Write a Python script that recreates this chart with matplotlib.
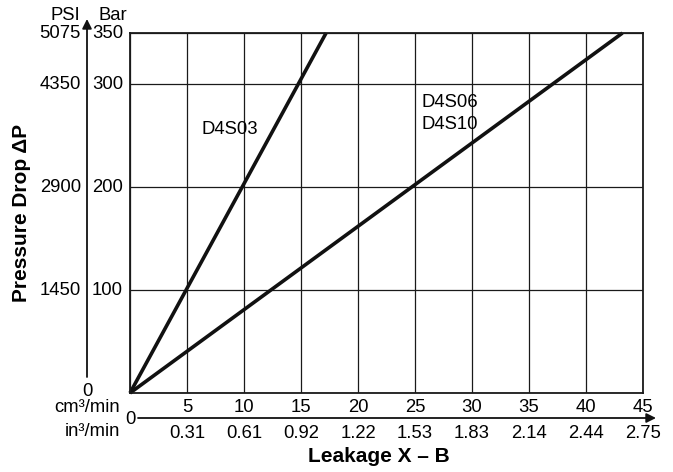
import matplotlib
matplotlib.use("Agg")
import matplotlib.pyplot as plt
from matplotlib.transforms import blended_transform_factory

plt.rcParams['font.family'] = ['Liberation Sans', 'DejaVu Sans']

# Data
cm_ticks = [5, 10, 15, 20, 25, 30, 35, 40, 45]
in_labels = ['0.31', '0.61', '0.92', '1.22', '1.53', '1.83', '2.14', '2.44', '2.75']
bar_ticks = [100, 200, 300, 350]
psi_labels = ['1450', '2900', '4350', '5075']
d4s03_x = [0, 17.2]
d4s03_y = [0, 350]
d4s06_x = [0, 43.2]
d4s06_y = [0, 350]

W, H = 673, 472
fig = plt.figure(figsize=(W / 100, H / 100), dpi=100)
L, R, T, B = 130, 643, 33, 393
ax = fig.add_axes([L / W, 1 - B / H, (R - L) / W, (B - T) / H])
ax.set_xlim(0, 45)
ax.set_ylim(0, 350)

for s in ax.spines.values():
    s.set_linewidth(1.3)
    s.set_color('#1a1a1a')
ax.set_xticks([0] + cm_ticks)
ax.set_yticks([0] + bar_ticks)
ax.tick_params(length=0, labelbottom=False, labelleft=False)
ax.grid(True, color='#1a1a1a', linewidth=0.9)
ax.set_axisbelow(True)

ax.plot(d4s03_x, d4s03_y, color='#111111', linewidth=2.6, solid_capstyle='butt', clip_on=False)
ax.plot(d4s06_x, d4s06_y, color='#111111', linewidth=2.6, solid_capstyle='butt', clip_on=False)

fs = 13.3
ax.text(6.3, 256, 'D4S03', fontsize=fs, ha='left', va='center')
ax.text(25.6, 282, 'D4S06', fontsize=fs, ha='left', va='center')
ax.text(25.6, 261, 'D4S10', fontsize=fs, ha='left', va='center')

ty = blended_transform_factory(ax.transAxes, ax.transData)
tx = blended_transform_factory(ax.transData, ax.transAxes)
aw, ah = R - L, B - T

def fx(px):
    return (px - L) / aw

def fy(py):
    return (B - py) / ah

# Left vertical arrow axis
ax.annotate('', xy=(fx(87), fy(19)), xytext=(fx(87), fy(377)),
            xycoords='axes fraction', textcoords='axes fraction',
            arrowprops=dict(arrowstyle='-|>', color='#111111', lw=1.3,
                            mutation_scale=14, shrinkA=0, shrinkB=0))
for b, p in zip(bar_ticks, psi_labels):
    ax.text(fx(81), b, p, transform=ty, fontsize=fs, ha='right', va='center')
    ax.text(fx(92), b, str(b), transform=ty, fontsize=fs, ha='left', va='center')
ax.text(fx(87), fy(391), '0', transform=ax.transAxes, fontsize=fs, ha='center', va='center')
ax.text(fx(80), fy(15), 'PSI', transform=ax.transAxes, fontsize=fs, ha='right', va='center')
ax.text(fx(98), fy(15), 'Bar', transform=ax.transAxes, fontsize=fs, ha='left', va='center')

# Bottom horizontal arrow axis
ax.annotate('', xy=(fx(656), fy(418)), xytext=(fx(138), fy(418)),
            xycoords='axes fraction', textcoords='axes fraction',
            arrowprops=dict(arrowstyle='-|>', color='#111111', lw=1.3,
                            mutation_scale=14, shrinkA=0, shrinkB=0))
for c, il in zip(cm_ticks, in_labels):
    ax.text(c, fy(408), str(c), transform=tx, fontsize=fs, ha='center', va='center')
    ax.text(c, fy(434), il, transform=tx, fontsize=fs, ha='center', va='center')
ax.text(0, fy(419), '0', transform=tx, fontsize=fs, ha='center', va='center')
ax.text(fx(120), fy(408), 'cm³/min', transform=ax.transAxes, fontsize=fs, ha='right', va='center')
ax.text(fx(120), fy(432), 'in³/min', transform=ax.transAxes, fontsize=fs, ha='right', va='center')

ax.text(fx(379), fy(457), 'Leakage X – B', transform=ax.transAxes, fontsize=15,
        fontweight='bold', ha='center', va='center')
ax.text(fx(22), fy(213), 'Pressure Drop ΔP', transform=ax.transAxes, fontsize=15,
        fontweight='bold', ha='center', va='center', rotation=90)

fig.savefig('out.png', dpi=100)
